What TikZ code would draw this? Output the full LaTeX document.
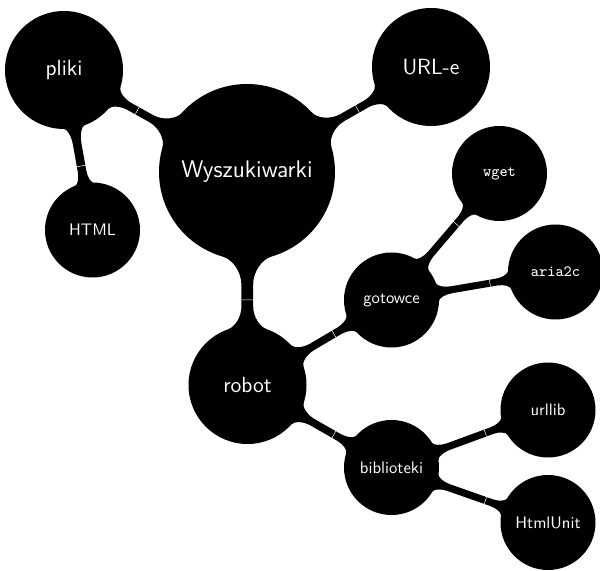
\documentclass[tikz,border=0pt]{standalone}
\usetikzlibrary{calc,backgrounds}
\newcommand\computeflare[3]{%
  \pgfmathsetmacro\flR{0.6*#1}%
  \pgfmathsetmacro\flL{0.6*#3}%
  \pgfmathsetmacro\flP{#2}%
  \pgfmathsetmacro\flK{0.5*(\flR*sin(\flP)-\flH)}%
  \pgfmathsetmacro\flM{0.5*(\flR+\flL-\flR*cos(\flP))}%
  \pgfmathsetmacro\flXa{\flR*cos(\flP)+\flK*sin(\flP)}%
  \pgfmathsetmacro\flYa{\flR*sin(\flP)-\flK*cos(\flP)}%
  \pgfmathsetmacro\flXb{\flR+\flL-\flM}%
  \pgfmathsetmacro\flXc{\flR+\flL}%
  \pgfmathsetmacro\fzd{\flR}%
  \pgfmathsetmacro\fza{\flP}%
  \pgfmathsetmacro\fod{veclen(\flXa,\flYa)}%
  \pgfmathsetmacro\foa{atan2(\flYa,\flXa)}%
  \pgfmathsetmacro\ftd{veclen(\flXb,\flH)}%
  \pgfmathsetmacro\fta{atan2(\flH,\flXb)}%
  \pgfmathsetmacro\fed{veclen(\flXc,\flH)}%
  \pgfmathsetmacro\fea{atan2(\flH,\flXc)}%
}
% #1 a, #2 b, #3 ra px, #4 rb px, #5 half width px, #6 phi a, #7 L a px, #8 phi b, #9 L b px
\newcommand\barconn[9]{%
  \pgfmathsetmacro\flH{0.6*#5}%
  \computeflare{#3}{#6}{#7}%
  \let\Azd\fzd\let\Aza\fza\let\Aod\fod\let\Aoa\foa
  \let\Atd\ftd\let\Ata\fta\let\Aed\fed\let\Aea\fea
  \computeflare{#4}{#8}{#9}%
  \let\Bzd\fzd\let\Bza\fza\let\Bod\fod\let\Boa\foa
  \let\Btd\ftd\let\Bta\fta\let\Bed\fed\let\Bea\fea
  \begin{pgfonlayer}{background}
  \fill[barfill] ($(#1)!\Azd pt!\Aza:(#2)$) .. controls ($(#1)!\Aod pt!\Aoa:(#2)$) and ($(#1)!\Atd pt!\Ata:(#2)$) .. ($(#1)!\Aed pt!\Aea:(#2)$)
    -- ($(#2)!\Bed pt!-\Bea:(#1)$) .. controls ($(#2)!\Btd pt!-\Bta:(#1)$) and ($(#2)!\Bod pt!-\Boa:(#1)$) .. ($(#2)!\Bzd pt!-\Bza:(#1)$)
    -- (#2.center) -- ($(#2)!\Bzd pt!\Bza:(#1)$) .. controls ($(#2)!\Bod pt!\Boa:(#1)$) and ($(#2)!\Btd pt!\Bta:(#1)$) .. ($(#2)!\Bed pt!\Bea:(#1)$)
    -- ($(#1)!\Aed pt!-\Aea:(#2)$) .. controls ($(#1)!\Atd pt!-\Ata:(#2)$) and ($(#1)!\Aod pt!-\Aoa:(#2)$) .. ($(#1)!\Azd pt!-\Aza:(#2)$)
    -- (#1.center) -- cycle;
  \draw[seamline] ($(#1)!0.6!(#2)!\flH pt!90:(#2)$) -- ($(#1)!0.6!(#2)!\flH pt!-90:(#2)$);
  \end{pgfonlayer}
}
\begin{document}
\begin{tikzpicture}[x=0.6pt,y=-0.6pt,
  cbase/.style={circle,fill=black,text=white,inner sep=0pt,align=center,font=\sffamily},
  rootc/.style={cbase,minimum size=105.6pt,font=\sffamily\fontsize{14.4}{17}\selectfont},
  lonec/.style={cbase,minimum size=70.8pt,font=\sffamily\fontsize{13.2}{16}\selectfont},
  ltwoc/.style={cbase,minimum size=57pt,font=\sffamily\fontsize{10}{12}\selectfont},
  ttc/.style={cbase,minimum size=57pt,font=\ttfamily\fontsize{9.4}{11}\selectfont},
  barfill/.style={fill=black},
  seamline/.style={draw=white,line width=0.3pt},
]
\useasboundingbox (0,0) rectangle (600,571);
\node[rootc] (root) at (247,172) {Wyszukiwarki};
\node[lonec] (pliki) at (64,70) {pliki};
\node[lonec] (url) at (431,67) {URL-e};
\node[lonec] (robot) at (247.5,385) {robot};
\node[ltwoc] (html) at (92.5,230) {HTML};
\node[ltwoc] (gotowce) at (391.5,300) {gotowce};
\node[ltwoc] (bib) at (391.5,467.5) {biblioteki};
\node[ttc] (wget) at (499.5,173.5) {wget};
\node[ttc] (aria) at (555.5,272) {aria2c};
\node[ltwoc] (urllib) at (548,410) {urllib};
\node[ltwoc] (htmlunit) at (548,522.5) {HtmlUnit};
\barconn{root}{pliki}{88}{59}{4}{13}{22}{12}{16}
\barconn{root}{url}{88}{59}{4}{13}{22}{12}{16}
\barconn{root}{robot}{88}{59}{5.85}{16}{25}{19}{20}
\barconn{pliki}{html}{59}{47.5}{4.3}{10}{16}{11}{12}
\barconn{robot}{gotowce}{59}{47.5}{3.8}{12}{16}{12}{13}
\barconn{robot}{bib}{59}{47.5}{3.8}{12}{16}{12}{13}
\barconn{gotowce}{wget}{47.5}{47.5}{3.6}{11}{13}{11}{12}
\barconn{gotowce}{aria}{47.5}{47.5}{3.5}{11}{13}{11}{12}
\barconn{bib}{urllib}{47.5}{47.5}{3.6}{11}{13}{11}{12}
\barconn{bib}{htmlunit}{47.5}{47.5}{3.6}{11}{13}{11}{12}
\end{tikzpicture}
\end{document}
